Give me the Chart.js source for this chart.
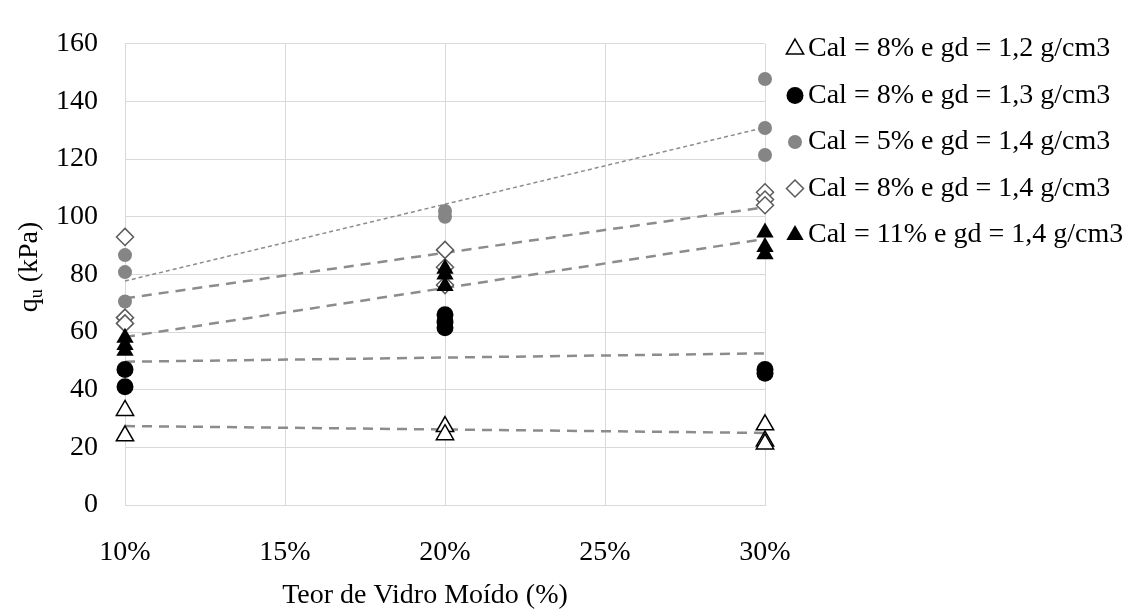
<!DOCTYPE html>
<html>
<head>
<meta charset="utf-8">
<script src="https://cdn.jsdelivr.net/npm/chart.js@4.4.1/dist/chart.umd.min.js"></script>
<style>
  html, body { margin: 0; background: #fff; }
  #wrap { width: 1132px; height: 610px; position: relative; }
</style>
</head>
<body>
<div id="wrap"><canvas id="qu-chart"></canvas></div>
<script>
'use strict';

// ─── Dados: teor de vidro (%) e qu (kPa) por série ───────
const teorVidro = [10, 20, 30];

const cal8gd12  = [[32.8, 24.0], [27.2, 24.4], [27.8, 22.2, 21.2]];
const cal8gd13  = [[47.0, 41.0], [66.0, 63.5, 61.5], [47.0, 45.7]];
const cal5gd14  = [[86.7, 80.8, 70.6], [102.0, 100.0], [147.8, 130.8, 121.4]];
const cal8gd14  = [[93.0, 65.0, 63.0], [88.5, 82.5, 76.3], [108.5, 106.0, 104.0]];
const cal11gd14 = [[58.0, 55.5, 53.5], [82.0, 80.0, 76.0], [94.5, 89.5, 87.0]];

// linhas de tendência (valor em 10% e em 30%)
const trendX         = [10, 30];
const trendCal8gd12  = [27.4, 25.0];
const trendCal8gd13  = [49.7, 52.6];
const trendCal5gd14  = [77.7, 131.0];
const trendCal8gd14  = [71.7, 103.3];
const trendCal11gd14 = [58.3, 92.3];

const yTicks = [0, 20, 40, 60, 80, 100, 120, 140, 160];
const xTicks = [10, 15, 20, 25, 30];

const FONT = "'Liberation Serif', 'Times New Roman', serif";

function pontos(series) {
  return series.flatMap((vals, i) => vals.map(v => ({ x: teorVidro[i], y: v })));
}

function tendencia(vals) {
  return vals.map((v, i) => ({ x: trendX[i], y: v }));
}

function serie(label, data, style, order) {
  return Object.assign({
    type: 'scatter',
    label,
    data: pontos(data),
    showLine: false,
    clip: false,
    order,
  }, style);
}

function linha(data, dash, width) {
  return {
    type: 'line',
    data: tendencia(data),
    borderColor: '#8c8c8c',
    borderWidth: width,
    borderDash: dash,
    pointRadius: 0,
    fill: false,
    clip: false,
    order: 10,
    isTrend: true,
  };
}

const datasets = [
  serie('Cal = 8% e gd = 1,2 g/cm3', cal8gd12,
    { pointStyle: 'triangle', pointRadius: 10, backgroundColor: '#fff', borderColor: '#000', borderWidth: 1.5 }, 5),
  serie('Cal = 8% e gd = 1,3 g/cm3', cal8gd13,
    { pointStyle: 'circle', pointRadius: 8.5, backgroundColor: '#000', borderColor: '#000', borderWidth: 0 }, 4),
  serie('Cal = 5% e gd = 1,4 g/cm3', cal5gd14,
    { pointStyle: 'circle', pointRadius: 7, backgroundColor: '#858585', borderColor: '#858585', borderWidth: 0 }, 3),
  serie('Cal = 8% e gd = 1,4 g/cm3', cal8gd14,
    { pointStyle: 'rectRot', pointRadius: 8.5, backgroundColor: '#fff', borderColor: '#5a5a5a', borderWidth: 1.5 }, 2),
  serie('Cal = 11% e gd = 1,4 g/cm3', cal11gd14,
    { pointStyle: 'triangle', pointRadius: 10, backgroundColor: '#000', borderColor: '#000', borderWidth: 0 }, 1),
  linha(trendCal8gd12, [10, 7], 2.5),
  linha(trendCal8gd13, [10, 7], 2.5),
  linha(trendCal5gd14, [4, 3], 1.5),
  linha(trendCal8gd14, [10, 7], 2.5),
  linha(trendCal11gd14, [10, 7], 2.5),
];

// ─── Títulos dos eixos e legenda desenhados à mão ─────────
const extras = {
  id: 'extras',
  afterDraw(chart) {
    const c = chart.ctx;
    c.save();
    c.fillStyle = '#000';

    // título do eixo x
    c.font = `28px ${FONT}`;
    c.textAlign = 'center';
    c.textBaseline = 'alphabetic';
    c.fillText('Teor de Vidro Moído (%)', 425, 603);

    // título do eixo y: q com índice u
    c.save();
    c.translate(37, 267);
    c.rotate(-Math.PI / 2);
    c.textAlign = 'left';
    const big = `28px ${FONT}`, small = `18px ${FONT}`;
    c.font = big;  const wq = c.measureText('q').width;
    c.font = small; const wu = c.measureText('u').width;
    c.font = big;  const wr = c.measureText(' (kPa)').width;
    let x0 = -(wq + wu + wr) / 2;
    c.font = big;   c.fillText('q', x0, 0); x0 += wq;
    c.font = small; c.fillText('u', x0, 5); x0 += wu;
    c.font = big;   c.fillText(' (kPa)', x0, 0);
    c.restore();

    // legenda
    c.font = `28px ${FONT}`;
    c.textAlign = 'left';
    c.textBaseline = 'middle';
    chart.data.datasets.filter(d => !d.isTrend).forEach((d, i) => {
      const y = 49 + i * 46.5;
      c.fillStyle = d.backgroundColor;
      c.strokeStyle = d.borderColor;
      c.lineWidth = d.borderWidth;
      Chart.helpers.drawPoint(c, {
        pointStyle: d.pointStyle, radius: d.pointRadius, rotation: 0, borderWidth: d.borderWidth,
      }, 795, y);
      c.fillStyle = '#000';
      c.fillText(d.label, 808, y);
    });
    c.restore();
  },
};

new Chart(document.getElementById('qu-chart'), {
  data: { datasets },
  options: {
    responsive: true,
    maintainAspectRatio: false,
    animation: false,
    layout: { padding: { left: 0, top: 25, right: 367, bottom: 0 } },
    plugins: { legend: { display: false }, tooltip: { enabled: false } },
    scales: {
      x: {
        type: 'linear',
        min: xTicks[0], max: xTicks[xTicks.length - 1],
        afterBuildTicks: s => { s.ticks = xTicks.map(v => ({ value: v })); },
        afterFit: s => { s.height = 105; },
        ticks: {
          padding: 31, color: '#000',
          font: { family: FONT, size: 28 },
          callback: v => v + '%',
        },
        grid: { color: '#d9d9d9', lineWidth: 1, drawTicks: false },
        border: { color: '#d9d9d9' },
      },
      y: {
        min: yTicks[0], max: yTicks[yTicks.length - 1],
        afterBuildTicks: s => { s.ticks = yTicks.map(v => ({ value: v })); },
        afterFit: s => { s.width = 125; },
        ticks: { padding: 27, color: '#000', font: { family: FONT, size: 28 } },
        grid: { color: '#d9d9d9', lineWidth: 1, drawTicks: false },
        border: { color: '#d9d9d9' },
      },
    },
  },
  plugins: [extras],
});
</script>
</body>
</html>
